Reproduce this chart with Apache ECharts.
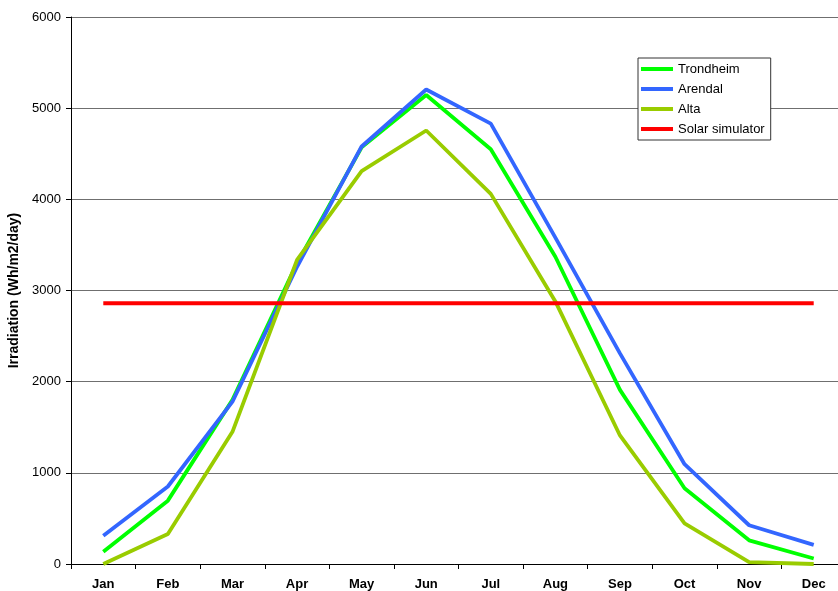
<!DOCTYPE html>
<html>
<head>
<meta charset="utf-8">
<script src="https://cdn.jsdelivr.net/npm/echarts@6/dist/echarts.min.js"></script>
<style>
  html, body { margin: 0; padding: 0; background: #fff; }
  #chart { width: 838px; height: 591px; }
</style>
</head>
<body>
<div id="chart"></div>
<script>
const months = ['Jan', 'Feb', 'Mar', 'Apr', 'May', 'Jun', 'Jul', 'Aug', 'Sep', 'Oct', 'Nov', 'Dec'];
const trondheim = [135, 695, 1800, 3300, 4570, 5145, 4550, 3370, 1910, 830, 260, 60];
const arendal = [310, 850, 1780, 3260, 4580, 5205, 4830, 3580, 2310, 1095, 425, 210];
const alta = [0, 330, 1450, 3335, 4310, 4755, 4060, 2880, 1410, 445, 20, 0];
const solarSimulator = [2860, 2860, 2860, 2860, 2860, 2860, 2860, 2860, 2860, 2860, 2860, 2860];

const chart = echarts.init(document.getElementById('chart'));

const lineSeries = (name, data, color) => ({
    name: name,
    type: 'line',
    data: data,
    symbol: 'none',
    lineStyle: { color: color, width: 3.8 },
    itemStyle: { color: color },
    animation: false,
});

const option = {
    backgroundColor: '#ffffff',
    textStyle: { fontFamily: 'Liberation Sans, Arial, sans-serif' },
    grid: {
        left: 71,
        top: 17,
        width: 775,
        height: 547,
        containLabel: false,
        outerBoundsMode: 'none',
    },
    legend: {
        orient: 'vertical',
        left: 638,
        top: 58,
        padding: [4, 6, 4, 3],
        itemGap: 6,
        itemWidth: 32,
        itemHeight: 4,
        icon: 'rect',
        backgroundColor: '#ffffff',
        borderColor: '#333333',
        borderWidth: 1,
        textStyle: { fontSize: 13, color: '#000', lineHeight: 14 },
        data: ['Trondheim', 'Arendal', 'Alta', 'Solar simulator'],
    },
    xAxis: {
        type: 'category',
        data: months,
        boundaryGap: true,
        axisLine: { lineStyle: { color: '#000', width: 1 } },
        axisTick: { show: true, interval: 0, length: 5, lineStyle: { color: '#000' } },
        axisLabel: { color: '#000', fontSize: 13, fontWeight: 'bold', margin: 14, interval: 0 },
        splitLine: { show: false },
    },
    yAxis: {
        type: 'value',
        min: 0,
        max: 6000,
        interval: 1000,
        name: 'Irradiation (Wh/m2/day)',
        nameLocation: 'middle',
        nameGap: 45,
        nameTextStyle: { color: '#000', fontSize: 14, fontWeight: 'bold' },
        axisLine: { show: true, lineStyle: { color: '#000', width: 1 } },
        axisTick: { show: true, length: 5, lineStyle: { color: '#000' } },
        axisLabel: { color: '#000', fontSize: 13, margin: 10, formatter: (v) => String(v) },
        splitLine: { show: true, lineStyle: { color: '#6f6f6f', width: 1 } },
    },
    series: [
        lineSeries('Trondheim', trondheim, '#00ff00'),
        lineSeries('Arendal', arendal, '#3366ff'),
        lineSeries('Alta', alta, '#99cc00'),
        lineSeries('Solar simulator', solarSimulator, '#ff0000'),
    ],
};

chart.setOption(option);
</script>
</body>
</html>
